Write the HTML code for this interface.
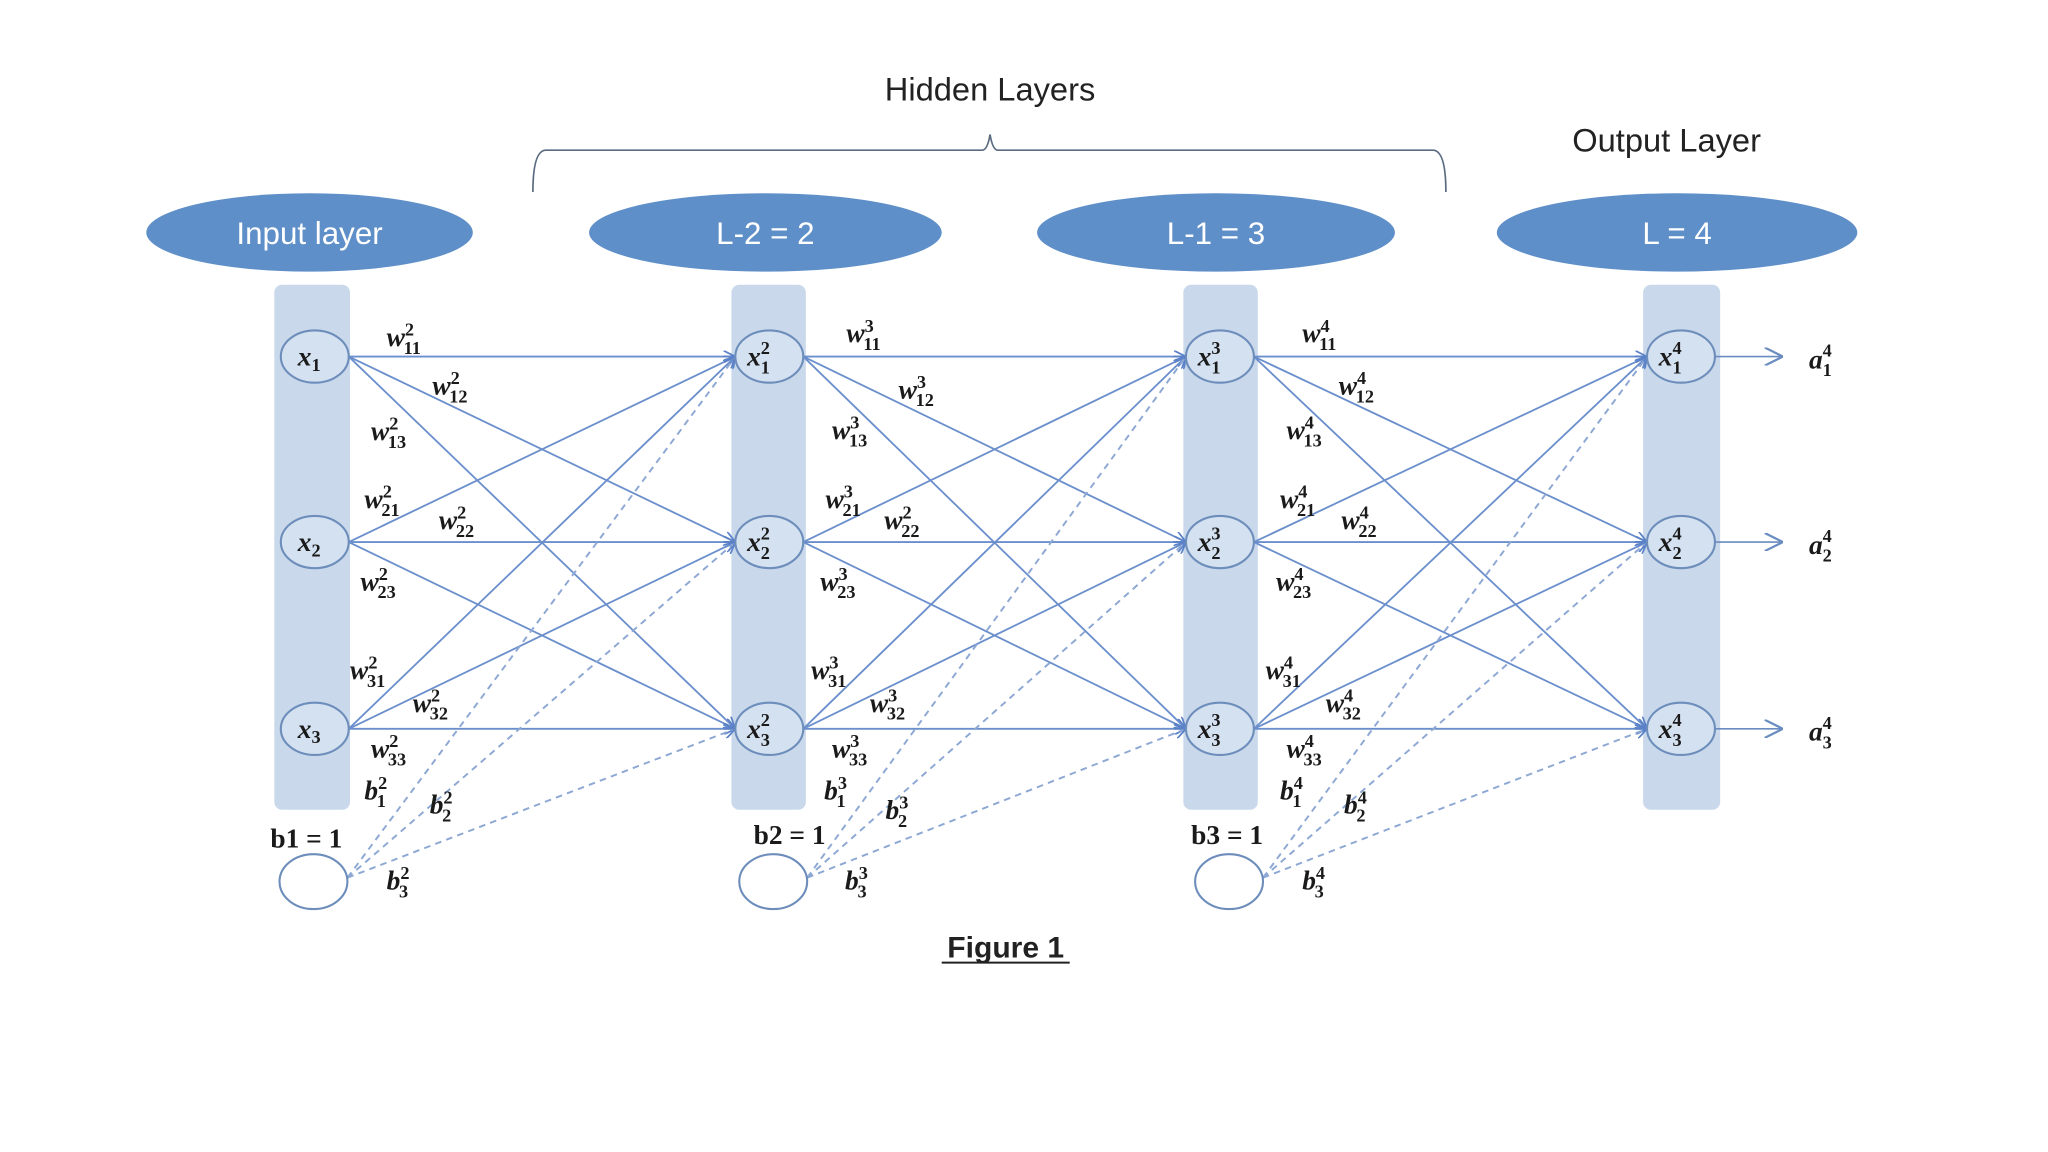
<!DOCTYPE html>
<html><head><meta charset="utf-8">
<style>
html,body{margin:0;padding:0;background:#fff;}
svg{display:block;}
.w{font-family:"Liberation Serif",serif;font-weight:bold;font-style:italic;font-size:21px;fill:#1a1a1a;}
.s{font-size:14px;font-style:normal;}
.hd{font-family:"Liberation Sans",sans-serif;font-size:25px;fill:#222;}
.el{font-family:"Liberation Sans",sans-serif;font-size:24px;fill:#fff;}
.bl{font-family:"Liberation Serif",serif;font-weight:bold;font-size:21px;fill:#1a1a1a;}
</style></head>
<body>
<svg width="2048" height="1152" viewBox="0 0 1568 882" xmlns="http://www.w3.org/2000/svg">
<defs>
<marker id="ah" viewBox="0 0 10 10" refX="10" refY="5" markerWidth="9" markerHeight="9" orient="auto" markerUnits="userSpaceOnUse"><path d="M0,0 L10,5 L0,10" fill="none" stroke="#5b82c8" stroke-width="1.5"/></marker>
<marker id="ao" viewBox="0 0 10 10" refX="10" refY="5" markerWidth="14" markerHeight="14" orient="auto" markerUnits="userSpaceOnUse"><path d="M0,0 L10,5 L0,10" fill="none" stroke="#6a8cc0" stroke-width="1.2"/></marker>
</defs>
<rect width="1568" height="882" fill="#fff"/>
<text x="758" y="77" text-anchor="middle" class="hd">Hidden Layers</text>
<text x="1276" y="116" text-anchor="middle" class="hd">Output Layer</text>
<path d="M408,147 Q408,115 418,115 L752,115 Q756,115 758,103 Q760,115 764,115 L1097,115 Q1107,115 1107,147" fill="none" stroke="#5a6b80" stroke-width="1.3"/>
<ellipse cx="237" cy="178" rx="125" ry="30" fill="#5f8fc8"/>
<ellipse cx="586" cy="178" rx="135" ry="30" fill="#5f8fc8"/>
<ellipse cx="931" cy="178" rx="137" ry="30" fill="#5f8fc8"/>
<ellipse cx="1284" cy="178" rx="138" ry="30" fill="#5f8fc8"/>
<text x="237" y="187" text-anchor="middle" class="el">Input layer</text>
<text x="586" y="187" text-anchor="middle" class="el">L-2 = 2</text>
<text x="931" y="187" text-anchor="middle" class="el">L-1 = 3</text>
<text x="1284" y="187" text-anchor="middle" class="el">L = 4</text>
<rect x="210" y="218" width="58" height="402" rx="6" fill="#c9d9eb"/>
<rect x="560" y="218" width="57" height="402" rx="6" fill="#c9d9eb"/>
<rect x="906" y="218" width="57" height="402" rx="6" fill="#c9d9eb"/>
<rect x="1258" y="218" width="59" height="402" rx="6" fill="#c9d9eb"/>
<g id="lines"></g>
<g id="nodes" fill="#d4e1f0" stroke="#6d8dbb" stroke-width="1.6">
<ellipse cx="241" cy="273" rx="26" ry="20"/><ellipse cx="241" cy="415" rx="26" ry="20"/><ellipse cx="241" cy="558" rx="26" ry="20"/>
<ellipse cx="589" cy="273" rx="26" ry="20"/><ellipse cx="589" cy="415" rx="26" ry="20"/><ellipse cx="589" cy="558" rx="26" ry="20"/>
<ellipse cx="934" cy="273" rx="26" ry="20"/><ellipse cx="934" cy="415" rx="26" ry="20"/><ellipse cx="934" cy="558" rx="26" ry="20"/>
<ellipse cx="1287" cy="273" rx="26" ry="20"/><ellipse cx="1287" cy="415" rx="26" ry="20"/><ellipse cx="1287" cy="558" rx="26" ry="20"/>
<ellipse cx="240" cy="675" rx="26" ry="21" fill="#fff"/><ellipse cx="592" cy="675" rx="26" ry="21" fill="#fff"/><ellipse cx="941" cy="675" rx="26" ry="21" fill="#fff"/>
</g>
<g stroke="#6a8cc0" stroke-width="1.3">
<line x1="1313" y1="273" x2="1365" y2="273" marker-end="url(#ao)"/>
<line x1="1313" y1="415" x2="1365" y2="415" marker-end="url(#ao)"/>
<line x1="1313" y1="558" x2="1365" y2="558" marker-end="url(#ao)"/>
</g>
<!-- node labels -->
<text x="228" y="280" class="w">x<tspan class="s" dy="4">1</tspan></text>
<text x="228" y="422" class="w">x<tspan class="s" dy="4">2</tspan></text>
<text x="228" y="565" class="w">x<tspan class="s" dy="4">3</tspan></text>
<text x="572" y="280" class="w">x<tspan class="s" dy="-9">2</tspan><tspan class="s" dx="-7" dy="15">1</tspan></text>
<text x="572" y="422" class="w">x<tspan class="s" dy="-9">2</tspan><tspan class="s" dx="-7" dy="15">2</tspan></text>
<text x="572" y="565" class="w">x<tspan class="s" dy="-9">2</tspan><tspan class="s" dx="-7" dy="15">3</tspan></text>
<text x="917" y="280" class="w">x<tspan class="s" dy="-9">3</tspan><tspan class="s" dx="-7" dy="15">1</tspan></text>
<text x="917" y="422" class="w">x<tspan class="s" dy="-9">3</tspan><tspan class="s" dx="-7" dy="15">2</tspan></text>
<text x="917" y="565" class="w">x<tspan class="s" dy="-9">3</tspan><tspan class="s" dx="-7" dy="15">3</tspan></text>
<text x="1270" y="280" class="w">x<tspan class="s" dy="-9">4</tspan><tspan class="s" dx="-7" dy="15">1</tspan></text>
<text x="1270" y="422" class="w">x<tspan class="s" dy="-9">4</tspan><tspan class="s" dx="-7" dy="15">2</tspan></text>
<text x="1270" y="565" class="w">x<tspan class="s" dy="-9">4</tspan><tspan class="s" dx="-7" dy="15">3</tspan></text>
<text x="1385" y="282" class="w">a<tspan class="s" dy="-9">4</tspan><tspan class="s" dx="-7" dy="15">1</tspan></text>
<text x="1385" y="424" class="w">a<tspan class="s" dy="-9">4</tspan><tspan class="s" dx="-7" dy="15">2</tspan></text>
<text x="1385" y="567" class="w">a<tspan class="s" dy="-9">4</tspan><tspan class="s" dx="-7" dy="15">3</tspan></text>
<!-- layer 2 weights -->
<g class="w">
<text x="296" y="265">w<tspan class="s" dy="-8">2</tspan><tspan class="s" dx="-8" dy="14">11</tspan></text>
<text x="331" y="302">w<tspan class="s" dy="-8">2</tspan><tspan class="s" dx="-8" dy="14">12</tspan></text>
<text x="284" y="337">w<tspan class="s" dy="-8">2</tspan><tspan class="s" dx="-8" dy="14">13</tspan></text>
<text x="279" y="389">w<tspan class="s" dy="-8">2</tspan><tspan class="s" dx="-8" dy="14">21</tspan></text>
<text x="336" y="405">w<tspan class="s" dy="-8">2</tspan><tspan class="s" dx="-8" dy="14">22</tspan></text>
<text x="276" y="452">w<tspan class="s" dy="-8">2</tspan><tspan class="s" dx="-8" dy="14">23</tspan></text>
<text x="268" y="520">w<tspan class="s" dy="-8">2</tspan><tspan class="s" dx="-8" dy="14">31</tspan></text>
<text x="316" y="545">w<tspan class="s" dy="-8">2</tspan><tspan class="s" dx="-8" dy="14">32</tspan></text>
<text x="284" y="580">w<tspan class="s" dy="-8">2</tspan><tspan class="s" dx="-8" dy="14">33</tspan></text>
<text x="279" y="612">b<tspan class="s" dy="-8">2</tspan><tspan class="s" dx="-8" dy="14">1</tspan></text>
<text x="329" y="623">b<tspan class="s" dy="-8">2</tspan><tspan class="s" dx="-8" dy="14">2</tspan></text>
<text x="296" y="681">b<tspan class="s" dy="-8">2</tspan><tspan class="s" dx="-8" dy="14">3</tspan></text>
<!-- layer 3 -->
<text x="648" y="262">w<tspan class="s" dy="-8">3</tspan><tspan class="s" dx="-8" dy="14">11</tspan></text>
<text x="688" y="305">w<tspan class="s" dy="-8">3</tspan><tspan class="s" dx="-8" dy="14">12</tspan></text>
<text x="637" y="336">w<tspan class="s" dy="-8">3</tspan><tspan class="s" dx="-8" dy="14">13</tspan></text>
<text x="632" y="389">w<tspan class="s" dy="-8">3</tspan><tspan class="s" dx="-8" dy="14">21</tspan></text>
<text x="677" y="405">w<tspan class="s" dy="-8">2</tspan><tspan class="s" dx="-8" dy="14">22</tspan></text>
<text x="628" y="452">w<tspan class="s" dy="-8">3</tspan><tspan class="s" dx="-8" dy="14">23</tspan></text>
<text x="621" y="520">w<tspan class="s" dy="-8">3</tspan><tspan class="s" dx="-8" dy="14">31</tspan></text>
<text x="666" y="545">w<tspan class="s" dy="-8">3</tspan><tspan class="s" dx="-8" dy="14">32</tspan></text>
<text x="637" y="580">w<tspan class="s" dy="-8">3</tspan><tspan class="s" dx="-8" dy="14">33</tspan></text>
<text x="631" y="612">b<tspan class="s" dy="-8">3</tspan><tspan class="s" dx="-8" dy="14">1</tspan></text>
<text x="678" y="627">b<tspan class="s" dy="-8">3</tspan><tspan class="s" dx="-8" dy="14">2</tspan></text>
<text x="647" y="681">b<tspan class="s" dy="-8">3</tspan><tspan class="s" dx="-8" dy="14">3</tspan></text>
<!-- layer 4 -->
<text x="997" y="262">w<tspan class="s" dy="-8">4</tspan><tspan class="s" dx="-8" dy="14">11</tspan></text>
<text x="1025" y="302">w<tspan class="s" dy="-8">4</tspan><tspan class="s" dx="-8" dy="14">12</tspan></text>
<text x="985" y="336">w<tspan class="s" dy="-8">4</tspan><tspan class="s" dx="-8" dy="14">13</tspan></text>
<text x="980" y="389">w<tspan class="s" dy="-8">4</tspan><tspan class="s" dx="-8" dy="14">21</tspan></text>
<text x="1027" y="405">w<tspan class="s" dy="-8">4</tspan><tspan class="s" dx="-8" dy="14">22</tspan></text>
<text x="977" y="452">w<tspan class="s" dy="-8">4</tspan><tspan class="s" dx="-8" dy="14">23</tspan></text>
<text x="969" y="520">w<tspan class="s" dy="-8">4</tspan><tspan class="s" dx="-8" dy="14">31</tspan></text>
<text x="1015" y="545">w<tspan class="s" dy="-8">4</tspan><tspan class="s" dx="-8" dy="14">32</tspan></text>
<text x="985" y="580">w<tspan class="s" dy="-8">4</tspan><tspan class="s" dx="-8" dy="14">33</tspan></text>
<text x="980" y="612">b<tspan class="s" dy="-8">4</tspan><tspan class="s" dx="-8" dy="14">1</tspan></text>
<text x="1029" y="623">b<tspan class="s" dy="-8">4</tspan><tspan class="s" dx="-8" dy="14">2</tspan></text>
<text x="997" y="681">b<tspan class="s" dy="-8">4</tspan><tspan class="s" dx="-8" dy="14">3</tspan></text>
</g>
<text x="207" y="649" class="bl">b1 = 1</text>
<text x="577" y="646" class="bl">b2 = 1</text>
<text x="912" y="646" class="bl">b3 = 1</text>
<text x="770" y="733" text-anchor="middle" font-family="Liberation Sans, sans-serif" font-weight="bold" font-size="23" fill="#222">Figure 1</text>
<line x1="721" y1="737" x2="819" y2="737" stroke="#222" stroke-width="1.6"/>
<script>
(function(){
var g=document.getElementById('lines'),ns='http://www.w3.org/2000/svg';
var cols=[241,589,934,1287],ys=[273,415,558],bias=[[240,675],[592,675],[941,675]];
function ln(x1,y1,x2,y2,d){var l=document.createElementNS(ns,'line');l.setAttribute('x1',x1);l.setAttribute('y1',y1);l.setAttribute('x2',x2);l.setAttribute('y2',y2);l.setAttribute('stroke',d?'#8ea8d4':'#6b8fcc');l.setAttribute('stroke-width',d?1.5:1.4);if(d)l.setAttribute('stroke-dasharray','5,4');l.setAttribute('marker-end','url(#ah)');g.appendChild(l);}
for(var c=0;c<3;c++){for(var i=0;i<3;i++)for(var j=0;j<3;j++)ln(cols[c]+26,ys[i],cols[c+1]-26,ys[j],false);
for(var j=0;j<3;j++)ln(bias[c][0]+26,bias[c][1]-3,cols[c+1]-26,ys[j],true);}
})();
</script>
</svg>
</body></html>
